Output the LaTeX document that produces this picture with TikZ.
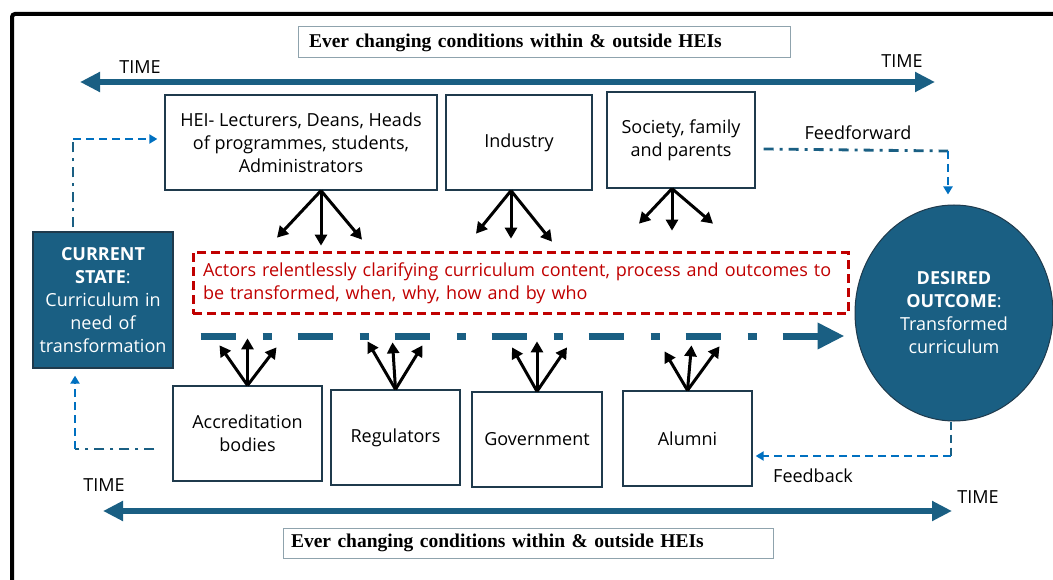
\documentclass[tikz,border=0pt]{standalone}
\usepackage{fontspec}
\setsansfont{Open Sans}
\newfontfamily\titleserif{Liberation Serif}
\usepackage{tikz}
\usetikzlibrary{arrows.meta,calc,positioning,shapes.geometric}

\definecolor{deepteal}{HTML}{1A5F83}
\definecolor{feedblue}{HTML}{0070C0}
\definecolor{actorred}{HTML}{C00000}
\definecolor{boxline}{HTML}{1F3A4C}
\definecolor{titleline}{HTML}{8FA3AD}
\newcommand{\actorfont}{\sffamily\fontsize{18}{23}\selectfont}

\begin{document}
\begin{tikzpicture}[x=1pt, y=-1pt]
\tikzstyle{box} = [rectangle, draw=boxline, line width=1.3pt, align=center,
  font=\actorfont, inner sep=2pt]
\tikzstyle{titlebox} = [rectangle, draw=titleline, line width=1pt, align=left,
  font=\titleserif\bfseries\fontsize{19.5}{22}\selectfont]
\tikzstyle{timelabel} = [font=\actorfont, inner sep=0pt]
\tikzstyle{timearrow} = [deepteal, line width=6pt,
  {Triangle[length=20pt,width=19pt]}-{Triangle[length=20pt,width=19pt]}]
\tikzstyle{fan} = [line width=3pt, -{Triangle[length=11pt,width=12pt]}]
\tikzstyle{tealdashdot} = [deepteal, line width=2.8pt,
  dash pattern=on 10pt off 6pt on 3pt off 6pt]
\tikzstyle{bluedash} = [feedblue, line width=2.8pt, dash pattern=on 8pt off 5pt,
  -{Triangle[length=8pt,width=9pt]}]

\useasboundingbox (0,0) rectangle (1053,580);
\clip (0,0) rectangle (1053,580);

% frame
\draw[line width=4pt, rounded corners=3pt] (12,600) -- (12,14) -- (1070,14);

% ever changing conditions
\node[titlebox, text width=470, inner xsep=11pt, minimum height=31]
  (toptitle) at (544,42.5) {Ever changing conditions within \& outside HEIs};
\node[titlebox, text width=474, inner xsep=8pt, minimum height=30]
  (bottomtitle) at (528,543) {Ever changing conditions within \& outside HEIs};

% time
\coordinate (toptimeL) at (80,82);
\coordinate (toptimeR) at (935,82);
\coordinate (bottimeL) at (103,511);
\coordinate (bottimeR) at (952,511);
\draw[timearrow] (toptimeL) -- (toptimeR);
\draw[timearrow] (bottimeL) -- (bottimeR);
\node[timelabel] at (140,67) {TIME};
\node[timelabel] at (902,61) {TIME};
\node[timelabel] at (104,485) {TIME};
\node[timelabel] at (978,497) {TIME};

% actors above
\node[box, minimum width=272, minimum height=95] (hei) at (301,142.5)
  {HEI- Lecturers, Deans, Heads\\of programmes, students,\\Administrators};
\node[box, minimum width=146, minimum height=95] (industry) at (519,142.5)
  {Industry};
\node[box, minimum width=148, minimum height=96] (society) at (681,140)
  {Society, family\\and parents};

% actors below
\node[box, minimum width=149, minimum height=95] (accred) at (247.5,433.5)
  {Accreditation\\bodies};
\node[box, minimum width=129, minimum height=95] (regulators) at (395.5,437.5)
  {Regulators};
\node[box, minimum width=130, minimum height=95] (government) at (537,439.5)
  {Government};
\node[box, minimum width=129, minimum height=95] (alumni) at (687.5,438.5)
  {Alumni};

% states
\node[box, fill=deepteal, text=white, minimum width=140, minimum height=136,
  text width=136] (current) at (103,300)
  {\textbf{CURRENT}\\\textbf{STATE}:\\Curriculum in\\need of\\transformation};
\node[ellipse, draw=boxline, line width=1pt, fill=deepteal, text=white,
  minimum width=198, minimum height=216, inner sep=0pt, align=center,
  font=\actorfont] (outcome) at (954,313)
  {\textbf{DESIRED}\\\textbf{OUTCOME}:\\Transformed\\curriculum};

% clarifying
\node[rectangle, draw=actorred, line width=3pt, dash pattern=on 9pt off 5pt,
  text=actorred, font=\actorfont, text width=635, align=left,
  minimum width=655, minimum height=54, inner sep=10pt] (clarify) at (520.5,283)
  {Actors relentlessly clarifying curriculum content, process and outcomes to\\
   be transformed, when, why, how and by who};

\draw[deepteal, line width=7pt, dash pattern=on 35pt off 27pt on 9pt off 26pt,
  -{Triangle[length=27pt,width=25pt]}]
  ($(current.east)+(27,36)$) -- ($(outcome.west)+(-10,23)$);

% arrows to and from the actors
\foreach \dx/\dy in {-44/47, 0/55, 41/49}
  \draw[fan] ([xshift=20pt]hei.south) -- ++(\dx,\dy);
\foreach \dx/\dy in {-35/43, 0/48, 41/51}
  \draw[fan] ([xshift=-8pt]industry.south) -- ++(\dx,\dy);
\foreach \dx/\dy in {-33/35, 0/42, 41/35}
  \draw[fan] ([xshift=-9pt]society.south) -- ++(\dx,\dy);
\foreach \dx/\dy in {-28/-40, 0/-47, 29/-38}
  \draw[fan] (accred.north) -- ++(\dx,\dy);
\foreach \dx/\dy in {-28/-48, -3/-47, 27/-44}
  \draw[fan] (regulators.north) -- ++(\dx,\dy);
\foreach \dx/\dy in {-25/-44, 0/-50, 30/-44}
  \draw[fan] (government.north) -- ++(\dx,\dy);
\foreach \dx/\dy in {-23/-39, 4/-45, 32/-44}
  \draw[fan] (alumni.north) -- ++(\dx,\dy);

% feedforward
\coordinate (ffcorner) at (948,151);
\draw[tealdashdot] ([shift={(8,9)}]society.east) -- (ffcorner);
\draw[bluedash] (ffcorner) -- ([yshift=10pt]outcome.north -| ffcorner);
\node[font=\actorfont] at (858,133) {Feedforward};

\coordinate (leftcorner) at (73,139);
\draw[tealdashdot] ($(leftcorner |- current.north)+(0,-4)$) -- (leftcorner);
\draw[bluedash] (leftcorner) -- ($(hei.west |- leftcorner)+(-7,0)$);

% feedback
\coordinate (fbcorner) at (951,456);
\draw[deepteal, line width=2.8pt, dash pattern=on 8pt off 5pt]
  (outcome.south -| fbcorner) -- (fbcorner);
\draw[bluedash] (fbcorner) -- ($(alumni.east |- fbcorner)+(3,0)$);
\node[font=\actorfont] at (813,476) {Feedback};

\coordinate (backcorner) at (75,449);
\draw[tealdashdot] ($(accred.west |- backcorner)+(-18,0)$) -- (backcorner);
\draw[bluedash] (backcorner) -- ($(backcorner |- current.south)+(0,7)$);
\end{tikzpicture}
\end{document}
